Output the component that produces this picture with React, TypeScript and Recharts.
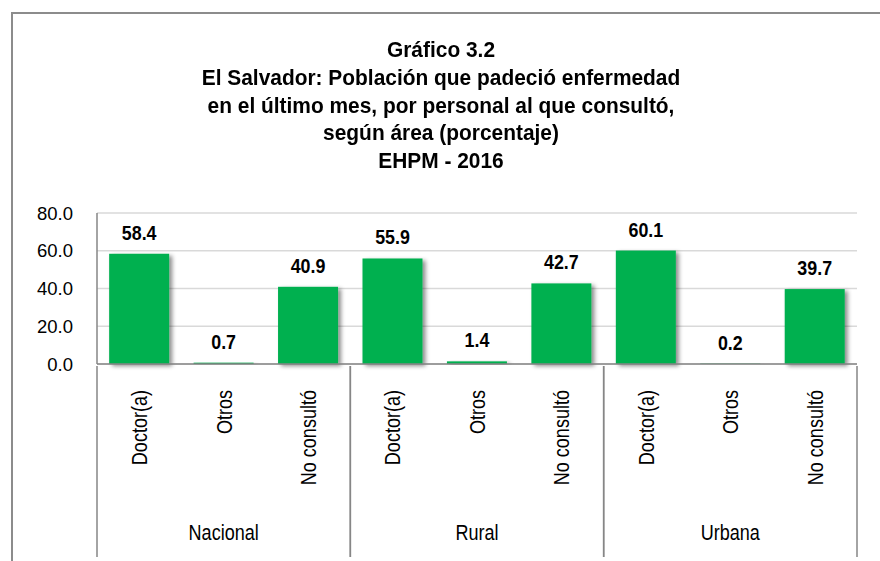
import React from "react";
import { BarChart, Bar, XAxis, YAxis, CartesianGrid, LabelList } from "recharts";

const AREAS = ["Nacional", "Rural", "Urbana"];
const PERSONAL = ["Doctor(a)", "Otros", "No consultó"];
const NACIONAL = [58.4, 0.7, 40.9];
const RURAL = [55.9, 1.4, 42.7];
const URBANA = [60.1, 0.2, 39.7];
const Y_TICKS = [0, 20, 40, 60, 80];
const TITLE = [
  "Gráfico 3.2",
  "El Salvador: Población que padeció enfermedad",
  "en el último mes, por personal al que consultó,",
  "según área (porcentaje)",
  "EHPM - 2016",
];

const VALUES = [NACIONAL, RURAL, URBANA];
const rows = AREAS.flatMap((area, a) =>
  PERSONAL.map((cat, i) => ({ key: `${area}-${i}`, area, cat, value: VALUES[a][i] }))
);

const SANS = "'Liberation Sans', Arial, sans-serif";
const GREEN = "#00B050";
const LINE = "#868686";
const NARROW = 0.82; // horizontal squeeze to mimic Arial Narrow

function CatTick(props: any) {
  const { x, y, index, width, visibleTicksCount } = props;
  const band = width / visibleTicksCount;
  const row = rows[index];
  const pos = index % PERSONAL.length;
  return (
    <g>
      <text
        transform={`translate(${x},${y + 24}) rotate(-90) scale(${NARROW},1)`}
        textAnchor="end"
        dy="0.36em"
        fontFamily={SANS}
        fontSize={22}
        fill="#000"
      >
        {row ? row.cat : ""}
      </text>
      {pos === 0 && <line x1={x - band / 2} x2={x - band / 2} y1={y} y2={y + 191} stroke={LINE} strokeWidth={1.5} />}
      {pos === PERSONAL.length - 1 && (
        <line x1={x + band / 2} x2={x + band / 2} y1={y} y2={y + 191} stroke={LINE} strokeWidth={1.5} />
      )}
    </g>
  );
}

function AreaTick(props: any) {
  const { x, y, index } = props;
  const row = rows[index];
  if (!row || index % PERSONAL.length !== 1) return <g />;
  return (
    <text
      transform={`translate(${x},${y + 26}) scale(${NARROW},1)`}
      dy="0.36em"
      textAnchor="middle"
      fontFamily={SANS}
      fontSize={22}
      fill="#000"
    >
      {row.area}
    </text>
  );
}

function ValueLabel(props: any) {
  const { x, y, width, value } = props;
  return (
    <text
      transform={`translate(${x + width / 2},${y - 14}) scale(0.85,1)`}
      textAnchor="middle"
      fontFamily={SANS}
      fontWeight="bold"
      fontSize={21}
      fill="#000"
    >
      {Number(value).toFixed(1)}
    </text>
  );
}

function ShadowBar(props: any) {
  const { x, y, width, height } = props;
  if (height <= 0) return <g />;
  return <rect x={x} y={y} width={width} height={height} fill={GREEN} filter="url(#barShadow)" />;
}

export default function App() {
  return (
    <div style={{ position: "absolute", left: 0, top: 0, width: 880, height: 561, overflow: "hidden", background: "#fff" }}>
      <svg width={0} height={0} style={{ position: "absolute" }}>
        <defs>
          <filter id="barShadow" x="-20%" y="-20%" width="150%" height="140%">
            <feDropShadow dx={3} dy={2} stdDeviation={2} floodColor="#000" floodOpacity={0.45} />
          </filter>
        </defs>
      </svg>
      <div
        style={{
          position: "absolute",
          left: 11,
          top: 12,
          width: 900,
          height: 600,
          borderTop: "2px solid #8c8c8c",
          borderLeft: "2px solid #8c8c8c",
        }}
      />
      <div
        style={{
          position: "absolute",
          left: 0,
          top: 36,
          width: 882,
          textAlign: "center",
          fontFamily: SANS,
          fontWeight: "bold",
          fontSize: 22,
          lineHeight: "27.8px",
          color: "#000",
          transform: "scaleX(0.95)",
          transformOrigin: "441px 0",
        }}
      >
        {TITLE.map((t) => (
          <div key={t}>{t}</div>
        ))}
      </div>
      <div style={{ position: "absolute", left: 0, top: 0 }}>
        <BarChart
          width={880}
          height={561}
          data={rows}
          margin={{ top: 213, right: 23, left: 37, bottom: 0 }}
          barCategoryGap="14.4%"
        >
          <CartesianGrid vertical={false} stroke="#d9d9d9" strokeWidth={1.5} />
          <XAxis
            dataKey="key"
            xAxisId={0}
            height={140}
            interval={0}
            tickSize={0}
            tickLine={false}
            axisLine={{ stroke: LINE, strokeWidth: 1.5 }}
            tick={<CatTick />}
          />
          <XAxis
            dataKey="key"
            xAxisId="area"
            height={57}
            interval={0}
            tickSize={0}
            tickLine={false}
            axisLine={false}
            tick={<AreaTick />}
          />
          <YAxis
            domain={[0, 80]}
            ticks={Y_TICKS}
            width={60}
            tickSize={0}
            tickLine={false}
            tickMargin={24}
            axisLine={{ stroke: LINE, strokeWidth: 1.5 }}
            tickFormatter={(v: number) => v.toFixed(1)}
            tick={{ fontFamily: SANS, fontSize: 18.5, fill: "#000" }}
          />
          <Bar dataKey="value" xAxisId={0} isAnimationActive={false} shape={<ShadowBar />}>
            <LabelList dataKey="value" content={<ValueLabel />} />
          </Bar>
        </BarChart>
      </div>
    </div>
  );
}
